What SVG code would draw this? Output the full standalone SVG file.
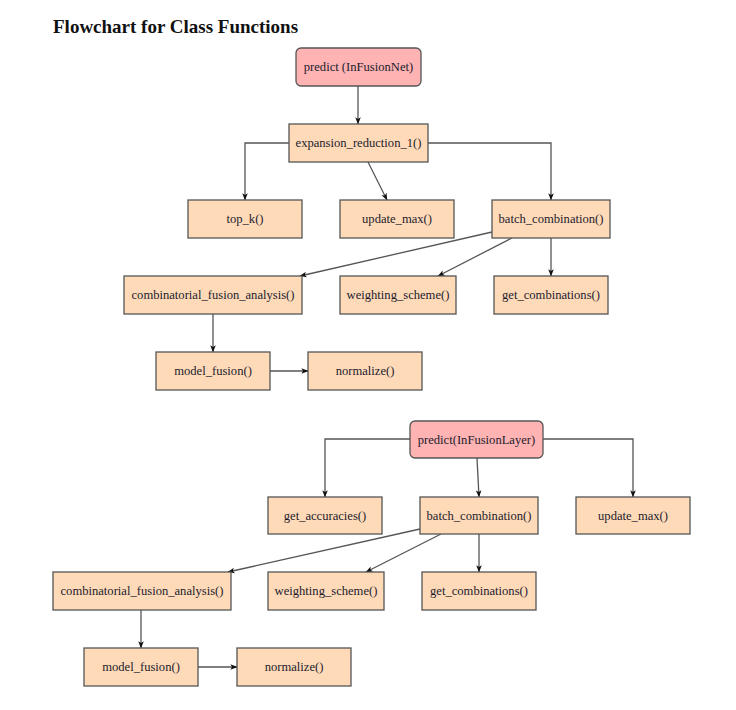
<svg xmlns="http://www.w3.org/2000/svg" width="736" height="710" viewBox="0 0 736 710">
<style>
.title{font-family:"Liberation Serif","Times New Roman",serif;font-weight:bold;font-size:19px;fill:#111}
.box rect{fill:#ffdab9;stroke:#555;stroke-width:1.3}
.box.main rect{fill:#ffb3b3}
.box text{font-family:"Liberation Serif","Times New Roman",serif;font-size:12.6px;fill:#1c1c2c;text-anchor:middle}
.conn path{fill:none;stroke:#555;stroke-width:1.3;marker-end:url(#arr)}
</style>
<defs>
<marker id="arr" viewBox="0 0 10 8" refX="9.5" refY="4" markerWidth="7" markerHeight="6" orient="auto" markerUnits="userSpaceOnUse">
<path d="M0,0 L10,4 L0,8 L2.5,4 z" fill="#111"/>
</marker>
</defs>
<rect width="736" height="710" fill="#fff"/>
<text class="title" x="53" y="33">Flowchart for Class Functions</text>

<g class="conn" id="connectors">
<path d="M358,86 V124"/>
<path d="M289,143 H245 V200"/>
<path d="M368,162 L387,200"/>
<path d="M428,143 H551 V200"/>
<path d="M492,232 L300,276"/>
<path d="M512,238 L438,276"/>
<path d="M551,238 V276"/>
<path d="M213,314 V352"/>
<path d="M270,371 H308"/>
<path d="M410,439 H325 V497"/>
<path d="M477,458 L479,497"/>
<path d="M543,439 H633 V497"/>
<path d="M420,529 L228,572"/>
<path d="M441,534 L366,572"/>
<path d="M479,534 V572"/>
<path d="M141,610 V648"/>
<path d="M198,667 H237"/>
</g>

<g class="box main" id="predict_net"><rect x="296" y="48" width="125" height="38" rx="5"/><text x="358.5" y="71">predict (InFusionNet)</text></g>
<g class="box" id="expansion"><rect x="289" y="124" width="139" height="38"/><text x="358.5" y="147">expansion_reduction_1()</text></g>
<g class="box" id="top_k"><rect x="188" y="200" width="114" height="38"/><text x="245" y="223">top_k()</text></g>
<g class="box" id="update_max_1"><rect x="340" y="200" width="114" height="38"/><text x="397" y="223">update_max()</text></g>
<g class="box" id="batch_1"><rect x="492" y="200" width="118" height="38"/><text x="551" y="223">batch_combination()</text></g>
<g class="box" id="cfa_1"><rect x="124" y="276" width="178" height="38"/><text x="213" y="299">combinatorial_fusion_analysis()</text></g>
<g class="box" id="weighting_1"><rect x="340" y="276" width="116" height="38"/><text x="398" y="299">weighting_scheme()</text></g>
<g class="box" id="getcomb_1"><rect x="494" y="276" width="114" height="38"/><text x="551" y="299">get_combinations()</text></g>
<g class="box" id="model_fusion_1"><rect x="156" y="352" width="114" height="38"/><text x="213" y="375">model_fusion()</text></g>
<g class="box" id="normalize_1"><rect x="308" y="352" width="114" height="38"/><text x="365" y="375">normalize()</text></g>

<g class="box main" id="predict_layer"><rect x="410" y="421" width="133" height="37" rx="5"/><text x="476.5" y="443.5">predict(InFusionLayer)</text></g>
<g class="box" id="get_accuracies"><rect x="268" y="497" width="114" height="37"/><text x="325" y="519.5">get_accuracies()</text></g>
<g class="box" id="batch_2"><rect x="420" y="497" width="118" height="37"/><text x="479" y="519.5">batch_combination()</text></g>
<g class="box" id="update_max_2"><rect x="576" y="497" width="114" height="37"/><text x="633" y="519.5">update_max()</text></g>
<g class="box" id="cfa_2"><rect x="53" y="572" width="178" height="38"/><text x="142" y="595">combinatorial_fusion_analysis()</text></g>
<g class="box" id="weighting_2"><rect x="268" y="572" width="116" height="38"/><text x="326" y="595">weighting_scheme()</text></g>
<g class="box" id="getcomb_2"><rect x="422" y="572" width="114" height="38"/><text x="479" y="595">get_combinations()</text></g>
<g class="box" id="model_fusion_2"><rect x="84" y="648" width="114" height="38"/><text x="141" y="671">model_fusion()</text></g>
<g class="box" id="normalize_2"><rect x="237" y="648" width="114" height="38"/><text x="294" y="671">normalize()</text></g>
</svg>
